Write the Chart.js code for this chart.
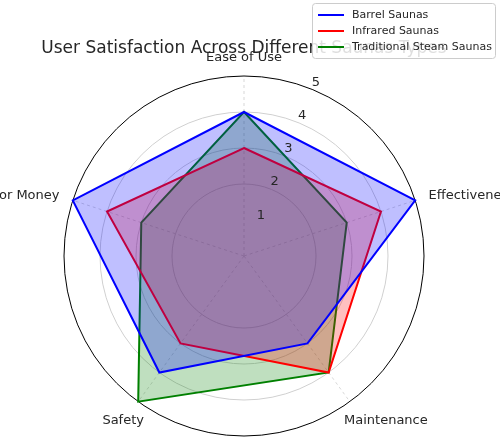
<!DOCTYPE html>
<html>
<head>
<script src="https://cdn.jsdelivr.net/npm/chart.js@4"></script>
<style>
  body { margin: 0; background: #fff; }
  #wrap { width: 500px; height: 445px; }
</style>
</head>
<body>
<div id="wrap"><canvas id="radarChart"></canvas></div>
<script>
const categories = ["Ease of Use", "Effectiveness", "Maintenance", "Safety", "Value for Money"];
const barrelSaunas = [4, 5, 3, 4, 5];
const infraredSaunas = [3, 4, 4, 3, 4];
const traditionalSaunas = [4, 3, 4, 5, 3];
const tickValues = [1, 2, 3, 4, 5];

// title, legend, point labels and tick labels drawn by hand
const overlayPlugin = {
  id: "overlay",
  afterDraw(chart) {
    const c = chart.ctx;
    const r = chart.scales.r;
    c.save();

    // category labels
    c.fillStyle = "#262626";
    c.font = "13px 'DejaVu Sans'";
    c.textBaseline = "middle";
    categories.forEach((name, i) => {
      const p = r.getPointPosition(i, r.drawingArea + 14);
      const dx = p.x - r.xCenter;
      c.textAlign = Math.abs(dx) < 5 ? "center" : (dx > 0 ? "left" : "right");
      let y = p.y;
      if (i === 0) y -= 4;
      if (i === 2 || i === 3) y += 8;
      let x = p.x;
      if (i === 2) x -= 14;
      if (i === 3) x += 14;
      c.fillText(name, x, y);
    });

    // tick labels
    c.textAlign = "center";
    const a = Math.PI / 8;
    tickValues.forEach(v => {
      const d = r.getDistanceFromCenterForValue(v) + 8;
      c.fillText(String(v), r.xCenter + d * Math.sin(a), r.yCenter - d * Math.cos(a));
    });

    // title
    c.font = "17px 'DejaVu Sans'";
    c.textBaseline = "alphabetic";
    c.fillText("User Satisfaction Across Different Saunas Types", 244, 53);

    // legend
    const x = 312, y = 3, w = 183, h = 55;
    c.fillStyle = "rgba(255,255,255,0.85)";
    c.strokeStyle = "#cccccc";
    c.lineWidth = 1;
    c.beginPath();
    c.roundRect(x + 0.5, y + 0.5, w, h, 3);
    c.fill();
    c.stroke();
    c.font = "11px 'DejaVu Sans'";
    c.textAlign = "left";
    c.textBaseline = "middle";
    chart.data.datasets.forEach((ds, i) => {
      const ly = y + 12 + i * 16;
      c.strokeStyle = ds.borderColor;
      c.lineWidth = 2;
      c.beginPath();
      c.moveTo(x + 6, ly);
      c.lineTo(x + 32, ly);
      c.stroke();
      c.fillStyle = "#262626";
      c.fillText(ds.label, x + 40, ly);
    });
    c.restore();
  }
};

const ctx = document.getElementById("radarChart").getContext("2d");
new Chart(ctx, {
  type: "radar",
  data: {
    labels: categories,
    datasets: [
      { label: "Barrel Saunas", data: barrelSaunas, borderColor: "#0000ff", backgroundColor: "rgba(0,0,255,0.25)" },
      { label: "Infrared Saunas", data: infraredSaunas, borderColor: "#ff0000", backgroundColor: "rgba(255,0,0,0.25)" },
      { label: "Traditional Steam Saunas", data: traditionalSaunas, borderColor: "#008000", backgroundColor: "rgba(0,128,0,0.25)" }
    ]
  },
  options: {
    responsive: true,
    maintainAspectRatio: false,
    animation: false,
    layout: { padding: { top: 76, bottom: 9, left: 64, right: 76 } },
    elements: {
      line: { borderWidth: 2, tension: 0 },
      point: { radius: 0 }
    },
    scales: {
      r: {
        min: 0,
        max: 5,
        beginAtZero: true,
        afterBuildTicks(axis) { axis.ticks = tickValues.map(v => ({ value: v })); },
        ticks: { display: false },
        grid: {
          circular: true,
          color: ctx => ctx.tick.value === 5 ? "#000000" : "#d0d0d0",
          borderDash: ctx => ctx.tick.value === 5 ? [] : [3, 3],
          lineWidth: 1
        },
        angleLines: { color: "#d8d8d8", borderDash: [3, 3] },
        pointLabels: { display: false }
      }
    },
    plugins: {
      legend: { display: false },
      title: { display: false },
      tooltip: { enabled: false }
    }
  },
  plugins: [overlayPlugin]
});
</script>
</body>
</html>
